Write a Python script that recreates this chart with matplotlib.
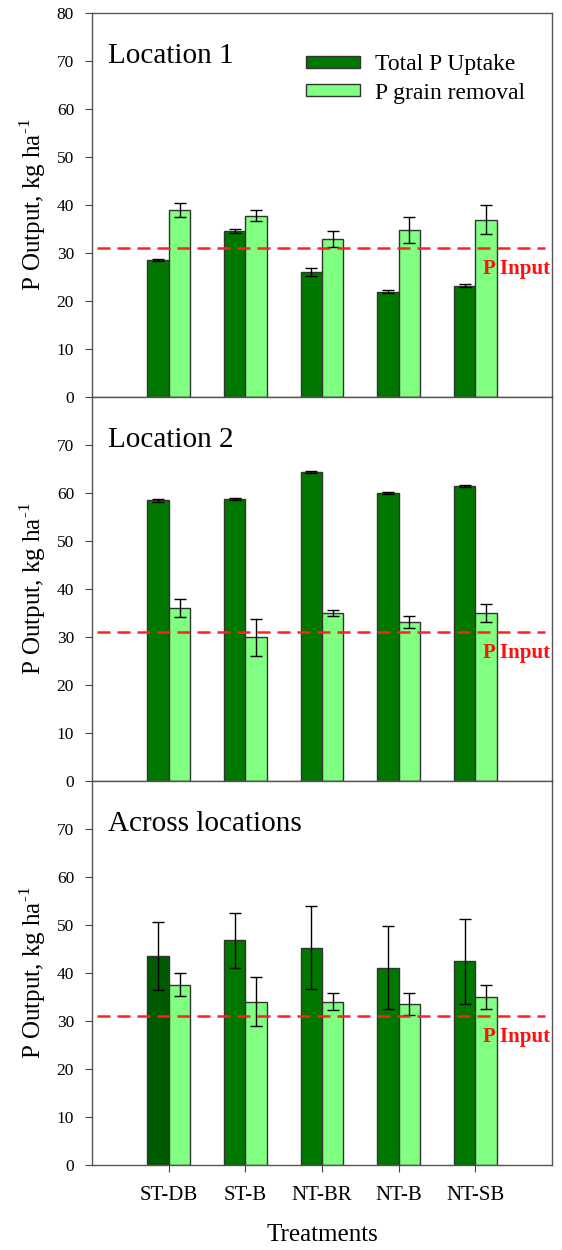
import numpy as np
import matplotlib.pyplot as plt

plt.rcParams['font.family'] = ['Liberation Serif', 'DejaVu Serif']
plt.rcParams['mathtext.fontset'] = 'custom'
plt.rcParams['mathtext.rm'] = 'Liberation Serif'

treatments = ['ST-DB', 'ST-B', 'NT-BR', 'NT-B', 'NT-SB']
p_input = 31

# Location 1
loc1_uptake = [28.5, 34.6, 26.0, 21.9, 23.2]
loc1_uptake_err = [0.2, 0.5, 0.8, 0.3, 0.3]
loc1_grain = [38.9, 37.8, 32.9, 34.8, 36.9]
loc1_grain_err = [1.5, 1.1, 1.6, 2.7, 3.0]

# Location 2
loc2_uptake = [58.5, 58.8, 64.3, 60.0, 61.4]
loc2_uptake_err = [0.3, 0.2, 0.2, 0.2, 0.2]
loc2_grain = [36.0, 29.9, 35.0, 33.1, 35.0]
loc2_grain_err = [1.9, 3.9, 0.7, 1.2, 1.8]

# Across locations
all_uptake = [43.6, 46.8, 45.3, 41.1, 42.4]
all_uptake_err = [7.1, 5.8, 8.7, 8.7, 8.9]
all_grain = [37.6, 34.0, 34.0, 33.6, 35.1]
all_grain_err = [2.3, 5.1, 1.8, 2.3, 2.5]

panels = [
    ('Location 1', loc1_uptake, loc1_uptake_err, loc1_grain, loc1_grain_err),
    ('Location 2', loc2_uptake, loc2_uptake_err, loc2_grain, loc2_grain_err),
    ('Across locations', all_uptake, all_uptake_err, all_grain, all_grain_err),
]

dark = '#007800'
light = '#80ff80'
edge = '#333333'

fig = plt.figure(figsize=(5.62, 12.5), dpi=100)
x = np.arange(1, len(treatments) + 1)
w = 0.28

left, width = 0.164, 0.818
h = 384 / 1250
bottom0 = 1 - 1165 / 1250

for i, (title, up, up_err, gr, gr_err) in enumerate(panels):
    ax = fig.add_axes([left, bottom0 + (2 - i) * h, width, h])
    up_colors = [dark] * len(up)
    if i == 2:
        up_colors[0] = '#005a00'
    ax.bar(x - w / 2, up, w, color=up_colors, edgecolor=edge, linewidth=1,
           label='Total P Uptake', zorder=2)
    ax.bar(x + w / 2, gr, w, color=light, edgecolor=edge, linewidth=1,
           label='P grain removal', zorder=2)
    ax.errorbar(x - w / 2, up, yerr=up_err, fmt='none', ecolor='black',
                elinewidth=1, capsize=4, capthick=1, zorder=3)
    ax.errorbar(x + w / 2, gr, yerr=gr_err, fmt='none', ecolor='black',
                elinewidth=1, capsize=4, capthick=1, zorder=3)
    ax.axhline(p_input, xmin=0.01, xmax=0.985, color='#ff2020',
               linestyle=(0, (5.2, 2.8)), linewidth=1.8, zorder=4)
    ax.text(5.1, 26.6, 'P Input', color='#ff1010', fontsize=15, fontweight='bold',
            ha='left', va='center', clip_on=True, zorder=5)

    ax.set_xlim(0, 6)
    ax.set_ylim(0, 80)
    ax.set_yticks(np.arange(0, 81, 10))
    if i > 0:
        ax.set_yticks(np.arange(0, 71, 10))
    ax.tick_params(axis='y', direction='out', length=5, pad=8, labelsize=12.5,
                   color='#444444')
    ax.set_ylabel('P Output, kg ha$^{\u20101}$', fontsize=18, labelpad=6)
    ax.text(0.035, 0.888, title, transform=ax.transAxes, fontsize=21,
            ha='left', va='center')
    for s in ax.spines.values():
        s.set_color('#555555')
        s.set_linewidth(1)

    if i == 2:
        ax.set_xticks(x)
        ax.set_xticklabels(treatments, fontsize=15)
        ax.tick_params(axis='x', direction='out', length=5, pad=10, color='#444444')
        ax.set_xlabel('Treatments', fontsize=18, labelpad=14)
    else:
        ax.set_xticks([])

    if i == 0:
        ax.legend(loc='upper right', bbox_to_anchor=(0.941, 0.893), frameon=False,
                  fontsize=17, handlelength=2.3, handleheight=0.42,
                  labelspacing=0.32, handletextpad=0.6, borderpad=0,
                  borderaxespad=0)

fig.savefig('out.png', dpi=100)
